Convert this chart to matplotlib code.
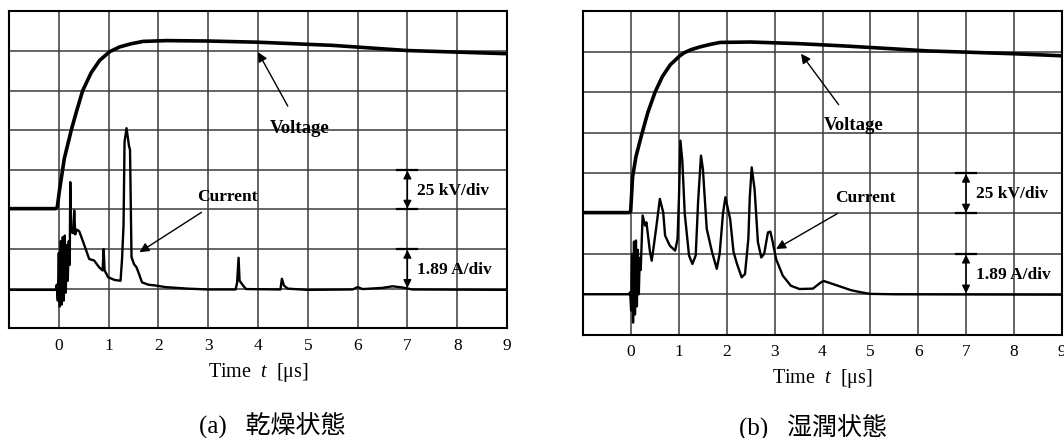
import matplotlib
matplotlib.use("Agg")
import matplotlib.pyplot as plt

plt.rcParams["font.family"] = ["Liberation Serif", "Noto Sans CJK JP"]
plt.rcParams["mathtext.fontset"] = "custom"
plt.rcParams["mathtext.rm"] = "Liberation Serif"
plt.rcParams["mathtext.it"] = "Liberation Serif:italic"

# (a) 乾燥状態 - Werte in Skalenteilen (div)
dry_volt_t = [-1.0, -0.06, -0.03, 0.01, 0.11, 0.25, 0.35, 0.48, 0.65, 0.82, 1.02, 1.22, 1.45,
              1.69, 2.16, 3.0, 4.0, 5.5, 7.0, 8.0, 9.0]
dry_volt_v = [3.02, 3.02, 3.06, 3.45, 4.28, 5.0, 5.45, 6.0, 6.45, 6.76, 6.98, 7.1, 7.18,
              7.24, 7.26, 7.25, 7.22, 7.14, 7.01, 6.97, 6.93]

dry_cur_t = [-1.0, -0.06, -0.04, -0.02, 0.0, 0.02, 0.04, 0.06, 0.08, 0.10, 0.12, 0.14, 0.16,
             0.18, 0.2, 0.22, 0.23, 0.25, 0.27, 0.29, 0.31, 0.33, 0.36, 0.41, 0.46, 0.54, 0.61,
             0.71, 0.81, 0.88, 0.9, 0.92, 0.99, 1.12, 1.24, 1.27, 1.3, 1.32, 1.36, 1.41, 1.43,
             1.46, 1.51, 1.56, 1.6, 1.67, 1.8, 1.94, 2.14, 2.6, 3.0, 3.55, 3.58, 3.61, 3.63,
             3.7, 3.76, 4.45, 4.48, 4.52, 4.6, 5.0, 5.9, 6.0, 6.1, 6.5, 6.7, 6.9, 7.1, 9.0]
dry_cur_v = [0.97, 0.97, 1.1, 0.7, 1.9, 0.55, 2.2, 0.6, 2.3, 0.7, 2.34, 0.9, 2.1, 1.2, 2.2,
             1.6, 3.69, 2.42, 2.5, 2.4, 2.97, 2.37, 2.49, 2.45, 2.28, 2.0, 1.75, 1.71, 1.54,
             1.46, 2.0, 1.46, 1.29, 1.22, 1.2, 1.75, 2.6, 4.7, 5.05, 4.6, 4.5, 1.8, 1.62, 1.54,
             1.41, 1.16, 1.1, 1.08, 1.04, 1.0, 0.98, 0.98, 1.15, 1.78, 1.2, 1.08, 0.99, 0.98,
             1.25, 1.08, 1.0, 0.97, 0.98, 1.04, 0.99, 1.02, 1.06, 1.03, 0.98, 0.97]

# (b) 湿潤状態
wet_volt_t = [-1.0, -0.05, -0.01, 0.03, 0.1, 0.22, 0.35, 0.5, 0.65, 0.82, 1.0, 1.1, 1.25, 1.44,
              1.65, 1.86, 2.5, 3.5, 4.5, 5.5, 6.2, 7.0, 8.0, 9.0]
wet_volt_v = [3.02, 3.02, 3.05, 3.9, 4.4, 4.95, 5.5, 6.0, 6.38, 6.68, 6.88, 6.97, 7.05, 7.12,
              7.18, 7.23, 7.24, 7.2, 7.14, 7.07, 7.02, 6.99, 6.95, 6.9]

wet_cur_t = [-1.0, -0.05, -0.02, 0.0, 0.02, 0.04, 0.06, 0.08, 0.10, 0.12, 0.14, 0.16, 0.18,
             0.20, 0.24, 0.29, 0.32, 0.39, 0.43, 0.46, 0.53, 0.6, 0.67, 0.71, 0.81, 0.92, 0.97,
             1.0, 1.03, 1.07, 1.12, 1.21, 1.28, 1.35, 1.4, 1.46, 1.5, 1.58, 1.69, 1.79, 1.85,
             1.92, 1.97, 2.07, 2.14, 2.21, 2.31, 2.38, 2.45, 2.48, 2.52, 2.58, 2.65, 2.72,
             2.78, 2.86, 2.91, 2.96, 3.03, 3.17, 3.34, 3.52, 3.8, 3.95, 4.02, 4.15, 4.35, 4.6,
             4.8, 5.0, 5.5, 9.0]
wet_cur_v = [1.0, 1.0, 1.05, 0.6, 2.0, 0.3, 2.3, 0.5, 2.33, 0.7, 2.1, 1.0, 1.9, 1.6, 2.95,
             2.7, 2.78, 2.08, 1.83, 2.08, 2.7, 3.36, 3.03, 2.45, 2.2, 2.08, 2.37, 3.4, 4.8, 4.3,
             3.0, 1.96, 1.75, 1.96, 3.3, 4.43, 4.1, 2.62, 2.05, 1.63, 2.0, 3.0, 3.4, 2.86,
             2.05, 1.76, 1.42, 1.5, 2.37, 3.4, 4.14, 3.6, 2.29, 1.91, 2.0, 2.53, 2.55, 2.29,
             1.87, 1.46, 1.21, 1.13, 1.14, 1.28, 1.33, 1.28, 1.2, 1.1, 1.05, 1.01, 1.0, 0.99]

xticks = [0, 1, 2, 3, 4, 5, 6, 7, 8, 9]
captions = ["(a)   乾燥状態", "(b)   湿潤状態"]

fig = plt.figure(figsize=(10.64, 4.39), dpi=100)
ax_a = fig.add_axes([9 / 1064, 1 - 329.3 / 439, 498 / 1064, 317 / 439])
ax_b = fig.add_axes([583.3 / 1064, 1 - 335.7 / 439, 478.4 / 1064, 323.4 / 439])


def draw_panel(ax, volt_t, volt_v, cur_t, cur_v, volt_lbl, volt_tip, cur_lbl, cur_tip):
    ax.plot(volt_t, volt_v, color="black", lw=2.6, zorder=3)
    ax.plot(cur_t, cur_v, color="black", lw=1.7, zorder=3)
    ax.set_xlim(-1, 9)
    ax.set_ylim(0, 8)
    ax.set_xticks(xticks)
    ax.set_xticklabels([str(t) for t in xticks], fontsize=12.5)
    ax.set_yticks(range(9))
    ax.set_yticklabels([])
    ax.tick_params(length=0, pad=6)
    ax.grid(True, color="#3a3a3a", lw=1.1)
    for s in ax.spines.values():
        s.set_linewidth(1.5)
    ax.set_xlabel("Time  $t$  [μs]", fontsize=14.5, labelpad=5)

    pfeil = dict(arrowstyle="-|>", color="black", lw=1, mutation_scale=14, shrinkA=8, shrinkB=0)
    ax.annotate("Voltage", xy=volt_tip, xytext=volt_lbl, zorder=5, fontsize=13.5,
                fontweight="bold", ha="center", va="center", arrowprops=pfeil)
    ax.annotate("Current", xy=cur_tip, xytext=cur_lbl, zorder=5, fontsize=12.5,
                fontweight="bold", ha="center", va="center", arrowprops=pfeil)

    # Skalenpfeile
    skala = dict(arrowstyle="<|-|>", color="black", lw=1, mutation_scale=12, shrinkA=0, shrinkB=0)
    ax.annotate("", xy=(7, 3.98), xytext=(7, 3.02), arrowprops=skala)
    ax.annotate("", xy=(7, 1.98), xytext=(7, 1.02), arrowprops=skala)
    ax.plot([6.8, 7.2], [4.0, 4.0], color="black", lw=1.6)
    ax.plot([6.8, 7.2], [3.02, 3.02], color="black", lw=1.6)
    ax.plot([6.8, 7.2], [2.0, 2.0], color="black", lw=1.6)
    ax.text(7.2, 3.5, "25 kV/div", fontsize=12.5, fontweight="bold", va="center", ha="left")
    ax.text(7.2, 1.5, "1.89 A/div", fontsize=12.5, fontweight="bold", va="center", ha="left")


draw_panel(ax_a, dry_volt_t, dry_volt_v, dry_cur_t, dry_cur_v,
           (4.83, 5.08), (4.0, 6.97), (3.39, 3.35), (1.62, 1.92))
draw_panel(ax_b, wet_volt_t, wet_volt_v, wet_cur_t, wet_cur_v,
           (4.65, 5.19), (3.55, 6.95), (4.9, 3.4), (3.03, 2.12))

fig.text(272 / 1064, 1 - 425 / 439, captions[0], fontsize=18, ha="center", va="center")
fig.text(813 / 1064, 1 - 427 / 439, captions[1], fontsize=18, ha="center", va="center")

fig.savefig("out.png", dpi=100)
